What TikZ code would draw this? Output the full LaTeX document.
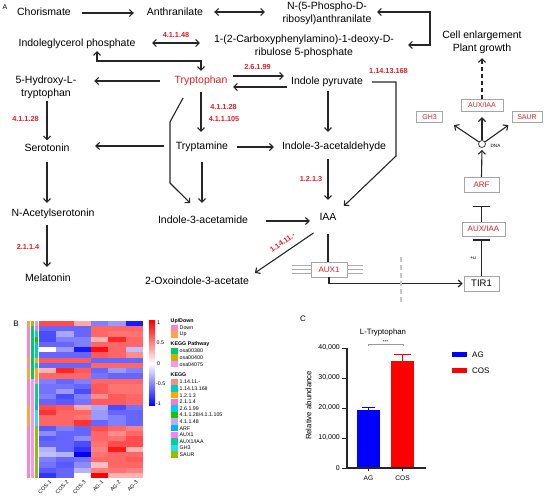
\documentclass[tikz,border=0pt]{standalone}
\usepackage{fontspec}
\setmainfont{Liberation Sans}
\usetikzlibrary{arrows.meta,calc}
\definecolor{ecred}{RGB}{228,30,36}
\definecolor{cDown}{RGB}{250,135,195}
\definecolor{cUp}{RGB}{250,165,70}
\definecolor{pA}{RGB}{0,200,110}
\definecolor{pB}{RGB}{205,175,0}
\definecolor{pC}{RGB}{250,150,240}
\definecolor{ka}{RGB}{250,140,130}
\definecolor{kb}{RGB}{0,205,195}
\definecolor{kc}{RGB}{255,170,0}
\definecolor{kd}{RGB}{245,120,210}
\definecolor{ke}{RGB}{0,205,245}
\definecolor{kf}{RGB}{30,195,0}
\definecolor{kg}{RGB}{190,170,250}
\definecolor{kh}{RGB}{0,180,250}
\definecolor{ki}{RGB}{245,130,240}
\definecolor{kj}{RGB}{0,210,150}
\definecolor{kk}{RGB}{40,220,250}
\definecolor{kl}{RGB}{150,190,0}
\newcommand\hmc[3]{%
  \pgfmathsetmacro\hmx{39+#1*17.333}%
  \pgfmathsetmacro\hmy{321+#2*5.2333}%
  \ifnum#3<0\relax
    \pgfmathtruncatemacro\hmv{-(#3)}%
    \fill[blue!\hmv!white] (\hmx,\hmy) rectangle ++(17.45,5.33);
  \else
    \fill[red!#3!white] (\hmx,\hmy) rectangle ++(17.45,5.33);
  \fi}
\begin{document}
\begin{tikzpicture}[x=1pt,y=-1pt,
  txt/.style={font=\fontsize{10.5}{13}\selectfont, inner sep=0pt, text height=7.6pt, text depth=2.2pt},
  txtm/.style={font=\fontsize{10.5}{13}\selectfont, inner sep=0pt, align=center},
  ec/.style={font=\fontsize{7.3}{8}\selectfont\bfseries, text=ecred, inner sep=0pt},
  ln/.style={draw=black!85, line width=1.1pt},
  arr/.style={ln, -{Straight Barb[length=3.6pt,width=7pt]}},
  dbl/.style={ln, {Straight Barb[length=3.6pt,width=7pt]}-{Straight Barb[length=3.6pt,width=7pt]}},
  inh/.style={ln, -{Bar[width=17pt,line width=1.2pt]}},
  gbox/.style={draw=gray!70, line width=0.8pt, fill=white, inner sep=0pt, text=ecred},
  memb/.style={draw=gray!65, line width=1.3pt},
  small/.style={inner sep=0pt, font=\fontsize{5.3}{6}\selectfont},
  lgt/.style={inner sep=0pt, anchor=west, font=\fontsize{5.3}{6}\selectfont},
]
\useasboundingbox (0,0) rectangle (550,497);

% ---------------- panel A ----------------
\node[inner sep=0pt, font=\fontsize{7}{8}\selectfont] (lA) at (5,7) {A};
\node[txt] (chor) at (44,13) {Chorismate};
\node[txt] (anth) at (175,13) {Anthranilate};
\node[txtm] (npra) at (327,13) {N-(5-Phospho-D-\\ribosyl)anthranilate};
\node[txt] (igp) at (77,44) {Indoleglycerol phosphate};
\node[txtm] (cdrp) at (304,46) {1-(2-Carboxyphenylamino)-1-deoxy-D-\\ribulose 5-phosphate};
\node[txt, text=ecred] (trp) at (201,81) {Tryptophan};
\node[txtm] (htp) at (46,87.5) {5-Hydroxy-L-\\tryptophan};
\node[txt] (ipa) at (327,82) {Indole pyruvate};
\node[txt] (ser) at (47,148.5) {Serotonin};
\node[txt] (tam) at (202,147) {Tryptamine};
\node[txt] (iald) at (334,147) {Indole-3-acetaldehyde};
\node[txt] (nas) at (53,214) {N-Acetylserotonin};
\node[txt] (iam) at (203,221) {Indole-3-acetamide};
\node[txt] (iaa) at (328,218) {IAA};
\node[txt] (mel) at (48,279) {Melatonin};
\node[txt] (oxi) at (197,282) {2-Oxoindole-3-acetate};
\node[txtm] (cell) at (482,42.5) {Cell enlargement\\Plant growth};

\node[ec] (e1) at (176,35) {4.1.1.48};
\node[ec] (e2) at (257.5,67) {2.6.1.99};
\node[ec] (e3) at (388.5,71) {1.14.13.168};
\node[ec] (e4) at (223.5,107) {4.1.1.28};
\node[ec] (e5) at (224,119) {4.1.1.105};
\node[ec] (e6) at (25.5,119) {4.1.1.28};
\node[ec] (e7) at (311,179) {1.2.1.3};
\node[ec] (e8) at (28,247) {2.1.1.4};
\node[ec, rotate=34.5] (e9) at (282.5,242.5) {1.14.11.-};

\node[gbox, minimum width=25.5pt, minimum height=11pt, font=\fontsize{7}{8}\selectfont] (gh3) at (429.5,117) {GH3};
\node[gbox, minimum width=42pt, minimum height=11.5pt, font=\fontsize{7}{8}\selectfont] (auxt) at (482,105.5) {AUX/IAA};
\node[gbox, minimum width=30pt, minimum height=11pt, font=\fontsize{7}{8}\selectfont] (saur) at (527,117) {SAUR};
\node[gbox, minimum width=35pt, minimum height=15.5pt, font=\fontsize{8}{9}\selectfont] (arf) at (481.5,185) {ARF};
\node[gbox, minimum width=43pt, minimum height=14pt, font=\fontsize{8}{9}\selectfont] (auxb) at (483.5,229) {AUX/IAA};
\node[gbox, minimum width=35pt, minimum height=15pt, font=\fontsize{9.5}{10}\selectfont, text=black] (tir) at (481.5,283.5) {TIR1};
\node[gbox, minimum width=36pt, minimum height=15pt, font=\fontsize{8}{9}\selectfont] (aux1) at (329,269.5) {AUX1};
\node[circle, draw=black!75, line width=0.8pt, fill=white, minimum size=7pt, inner sep=0pt] (dna) at (482,144) {};
\node[inner sep=0pt, font=\fontsize{4.6}{5}\selectfont] (dnal) at (495.5,146) {DNA};
\node[inner sep=0pt, font=\fontsize{5}{6}\selectfont] (ub) at (473,258) {+u};

% connectors
\draw[arr, shorten <=11pt, shorten >=13pt] (chor.east) -- (anth.west);
\draw[dbl, shorten <=11pt, shorten >=17.5pt] ([yshift=1pt]anth.east) -- ([yshift=1pt]anth.east -| npra.west);
\coordinate (brk) at (430,28);
\draw[dbl, shorten <=5.5pt, shorten >=14pt] ([yshift=1pt]npra.east) -- ([yshift=1pt]npra.east -| brk) -- ([yshift=1pt]cdrp.east -| brk) -- ([yshift=1pt]cdrp.east);
\draw[dbl, shorten <=16.5pt, shorten >=14pt] ([yshift=1pt]igp.east) -- ([yshift=1pt]igp.east -| cdrp.west);
\coordinate (k1) at (97,61);
\draw[dbl, shorten <=2pt, shorten >=5pt] (k1 |- igp.south) -- (k1) -| (trp.north);
\draw[arr, shorten <=5.5pt, shorten >=7pt] ([yshift=5pt]trp.east) -- ([yshift=5pt]trp.east -| ipa.west);
\draw[arr, shorten <=4pt, shorten >=5.5pt] ([yshift=-5pt]ipa.west) -- ([yshift=-5pt]ipa.west -| trp.east);
\draw[arr, shorten <=14.4pt, shorten >=17.7pt] (trp.west) -- (trp.west -| htp.east);
\draw[arr, shorten <=6pt, shorten >=10pt] (trp.south) -- (trp.south |- tam.north);
\coordinate (b1) at (170,122);
\coordinate (b2) at (170,183);
\draw[arr, shorten <=13.5pt, shorten >=18pt] ([xshift=-11.5pt]trp.south) -- (b1) -- (b2) -- (iam.north);
\draw[arr, shorten <=11.7pt, shorten >=25.5pt] ([yshift=1pt]tam.west) -- ([yshift=1pt]tam.west -| ser.east);
\draw[arr, shorten <=8.7pt, shorten >=8pt] (tam.east) -- (tam.east -| iald.west);
\draw[arr, shorten <=10pt, shorten >=13pt] (tam.south) -- (tam.south |- iam.north);
\draw[arr, shorten <=4pt, shorten >=10pt] ([xshift=1pt]ipa.south) -- ([xshift=1pt]ipa.south |- iald.north);
\coordinate (c1) at (396,82);
\coordinate (c2) at (396,156);
\draw[arr, shorten <=9pt, shorten >=10pt] (ipa.east) -- (c1) -- (c2) -- (iaa.north east);
\draw[arr, shorten <=7pt, shorten >=13pt] (iaa.north |- iald.south) -- (iaa.north);
\draw[arr, shorten <=17.7pt, shorten >=9.5pt] (iam.east) -- (iam.east -| iaa.west);
\draw[arr, shorten <=17.5pt, shorten >=7pt] (iaa.south) -- (oxi.north east);
\draw[arr, shorten <=2pt, shorten >=3pt] ([xshift=1pt]htp.south) -- ([xshift=1pt]htp.south |- ser.north);
\draw[arr, shorten <=8.6pt, shorten >=6pt] (ser.south) -- (ser.south |- nas.north);
\draw[arr, shorten <=6pt, shorten >=7pt] (ser.south |- nas.south) -- (ser.south |- mel.north);

\draw[ln, shorten <=11pt] (iaa.south) -- (iaa.south |- aux1.north);
\draw[arr, shorten >=1pt] (aux1.south) |- (tir.west);
\foreach \dy in {-3.8,0,3.8}{
  \draw[memb] ([yshift=\dy pt]aux1.west) -- ++(-19,0);
  \draw[memb] ([yshift=\dy pt]aux1.east) -- ++(16,0);
}
\coordinate (dsh1) at (401,257);
\coordinate (dsh2) at (401,304);
\draw[gray!45, line width=2.2pt, dash pattern=on 5pt off 3pt] (dsh1) -- (dsh2);
\draw[inh, shorten >=3pt] (tir.north) -- (tir.north |- auxb.south);
\draw[inh, shorten >=13pt] (arf.south |- auxb.north) -- (arf.south);
\draw[arr, shorten >=2pt] (arf.north) -- (dna.south);
\draw[arr, shorten >=5.5pt] (dna.north) -- (auxt.south);
\draw[arr, shorten >=4pt] (dna) -- ([xshift=8pt]gh3.south east);
\draw[arr, shorten >=4pt] (dna) -- (saur.south west);
\draw[arr, dash pattern=on 4pt off 3pt, shorten >=4pt] (auxt.north) -- (cell.south);

% ---------------- panel B ----------------
\node[inner sep=0pt, font=\fontsize{8}{9}\selectfont] (lB) at (16,324) {B};
\foreach \r/\a/\b/\c/\d/\e/\f in {
 0/70/70/35/-50/-40/-90, 1/-60/-60/-60/60/60/60, 2/-70/-35/-60/60/55/55,
 3/-70/-50/-50/30/85/60, 4/-60/-60/-50/60/60/60, 5/0/-40/-90/95/60/-25,
 6/-60/-60/-60/65/60/45, 7/65/65/65/-60/-60/-60, 8/-60/-60/-60/60/60/60,
 9/30/85/65/-60/-40/-50, 10/60/60/60/-55/-60/-60, 11/-50/-60/-50/60/60/60,
 12/-55/-55/-60/65/55/55, 13/-55/-40/-70/65/55/55, 14/-50/-70/-50/45/65/60,
 15/-60/-65/-55/65/65/60, 16/70/65/35/-35/-70/-55, 17/80/60/60/-40/-60/-60,
 18/60/60/55/-40/-50/-60, 19/60/60/80/-60/-50/-60, 20/-65/-50/-60/70/60/50,
 21/-45/-60/-60/60/45/60, 22/-65/-60/-45/60/55/70, 23/-60/-60/-70/55/70/70,
 24/-30/-60/-80/50/90/30, 25/-25/-30/-100/55/60/60, 26/-50/-60/-55/60/60/65,
 27/-55/-65/-45/25/60/60, 28/-65/-60/-30/50/55/50, 29/-80/-60/0/100/30/30}{
  \hmc{0}{\r}{\a}\hmc{1}{\r}{\b}\hmc{2}{\r}{\c}\hmc{3}{\r}{\d}\hmc{4}{\r}{\e}\hmc{5}{\r}{\f}
}
\foreach \r/\ca/\cb/\cc in {
 0/cUp/pB/kg, 1/cDown/pA/kd, 2/cDown/pA/ke, 3/cDown/pA/kf, 4/cDown/pA/kb,
 5/cDown/pA/kb, 6/cDown/pA/kb, 7/cUp/pA/kc, 8/cDown/pA/kb, 9/cUp/pA/kc,
 10/cUp/pA/kc, 11/cDown/pC/ki, 12/cDown/pC/kj, 13/cDown/pC/kj, 14/cDown/pC/kj,
 15/cDown/pC/kj, 16/cUp/pC/kh, 17/cUp/pC/kk, 18/cUp/pC/kk, 19/cUp/pC/kk,
 20/cDown/pC/kl, 21/cDown/pC/kl, 22/cDown/pC/kl, 23/cDown/pC/kl, 24/cDown/pC/kl,
 25/cDown/pC/kl, 26/cDown/pC/kl, 27/cDown/pC/kl, 28/cDown/pC/kl, 29/cDown/pC/kl}{
  \pgfmathsetmacro\ay{321+\r*5.2333}
  \fill[\ca] (26.5,\ay) rectangle ++(3.7,5.33);
  \fill[\cb] (30.7,\ay) rectangle ++(3.6,5.33);
  \fill[\cc] (34.8,\ay) rectangle ++(3.6,5.33);
}
\foreach \i/\lab in {0/COS-1,1/COS-2,2/COS-3,3/AG-1,4/AG-2,5/AG-3}{
  \node[small, font=\fontsize{5.2}{6}\selectfont, rotate=45, anchor=east] (cl\i) at ({39+17.333*\i+11.5},481.5) {\lab};
}
% colour bar
\shade[top color=red, bottom color=white] (149,321) rectangle (155,363.5);
\shade[top color=white, bottom color=blue] (149,363.5) rectangle (155,406);
\node[small, anchor=west] (cb1) at (157,323) {1};
\node[small, anchor=west] (cb2) at (156.5,343) {0.5};
\node[small, anchor=west] (cb3) at (157,363.5) {0};
\node[small, anchor=west] (cb4) at (156,384) {-0.5};
\node[small, anchor=west] (cb5) at (156,403.5) {-1};
% legends
\node[lgt, font=\fontsize{5.3}{6}\selectfont\bfseries] (lg1) at (170.5,321) {Up/Down};
\fill[cDown] (171,325) rectangle (177.5,331.2);
\node[lgt] (lgd) at (179.5,328) {Down};
\fill[cUp] (171,331.4) rectangle (177.5,337.6);
\node[lgt] (lgu) at (179.5,334.5) {Up};
\node[lgt, font=\fontsize{5.3}{6}\selectfont\bfseries] (lg2) at (170.5,344.5) {KEGG Pathway};
\foreach \i/\c/\lab in {0/pA/osa00380,1/pB/osa00400,2/pC/osa04075}{
  \pgfmathsetmacro\ly{351+6.6*\i}
  \fill[\c] (171,\ly-3.2) rectangle (177.5,\ly+3.2);
  \node[lgt] (lp\i) at (179.5,\ly) {\lab};
}
\node[lgt, font=\fontsize{5.3}{6}\selectfont\bfseries] (lg3) at (170.5,375) {KEGG};
\foreach \i/\c/\lab in {0/ka/1.14.11.-,1/kb/1.14.13.168,2/kc/1.2.1.3,3/kd/2.1.1.4,
  4/ke/2.6.1.99,5/kf/{4.1.1.28/4.1.1.105},6/kg/4.1.1.48,7/kh/ARF,8/ki/AUX1,
  9/kj/{AUX1/IAA},10/kk/GH3,11/kl/SAUR}{
  \pgfmathsetmacro\ly{382+6.6*\i}
  \fill[\c] (171,\ly-3.2) rectangle (177.5,\ly+3.2);
  \node[lgt] (lk\i) at (179.5,\ly) {\lab};
}

% ---------------- panel C ----------------
\node[inner sep=0pt, font=\fontsize{8}{9}\selectfont] (lC) at (303,319) {C};
\node[inner sep=0pt, font=\fontsize{7.8}{9}\selectfont] (ctitle) at (383,332) {L-Tryptophan};
\draw[gray!80, line width=0.6pt] (368,346) -- (368,344) -- (403,344) -- (403,346);
\node[inner sep=0pt, font=\fontsize{4.5}{5}\selectfont] (sig) at (385.5,341.5) {***};
\fill[blue] (357,468) rectangle (380,410);
\draw[blue, line width=0.8pt] (368.5,410) -- (368.5,407.7);
\draw[blue, line width=0.8pt] (362,407.7) -- (375,407.7);
\fill[red] (391,468) rectangle (414,360.6);
\draw[red, line width=0.8pt] (402.5,360.6) -- (402.5,354);
\draw[red, line width=0.8pt] (394,354) -- (411,354);
\draw[black!85, line width=1.1pt] (347,348) -- (347,468) -- (426,468);
\foreach \yy/\lab in {348/{40,000},378/{30,000},408/{20,000},438/{10,000},468/0}{
  \draw[black!85, line width=0.9pt] (342,\yy) -- (347,\yy);
  \node[inner sep=0pt, anchor=east, font=\fontsize{7}{8}\selectfont] (yt\yy) at (340,\yy) {\lab};
}
\draw[black!85, line width=0.9pt] (368.5,468) -- (368.5,471);
\draw[black!85, line width=0.9pt] (402.5,468) -- (402.5,471);
\node[inner sep=0pt, font=\fontsize{6.6}{7}\selectfont] (xag) at (368.5,478) {AG};
\node[inner sep=0pt, font=\fontsize{6.6}{7}\selectfont] (xcos) at (402.5,478) {COS};
\node[inner sep=0pt, rotate=90, font=\fontsize{7.8}{9}\selectfont] (ylab) at (308.5,405.5) {Relative abundance};
\fill[blue] (452,352.5) rectangle (467,357.5);
\node[inner sep=0pt, anchor=west, font=\fontsize{8}{9}\selectfont] (lgag) at (472,355) {AG};
\fill[red] (452,368.5) rectangle (467,373.5);
\node[inner sep=0pt, anchor=west, font=\fontsize{8}{9}\selectfont] (lgcos) at (472,371) {COS};
\end{tikzpicture}
\end{document}
